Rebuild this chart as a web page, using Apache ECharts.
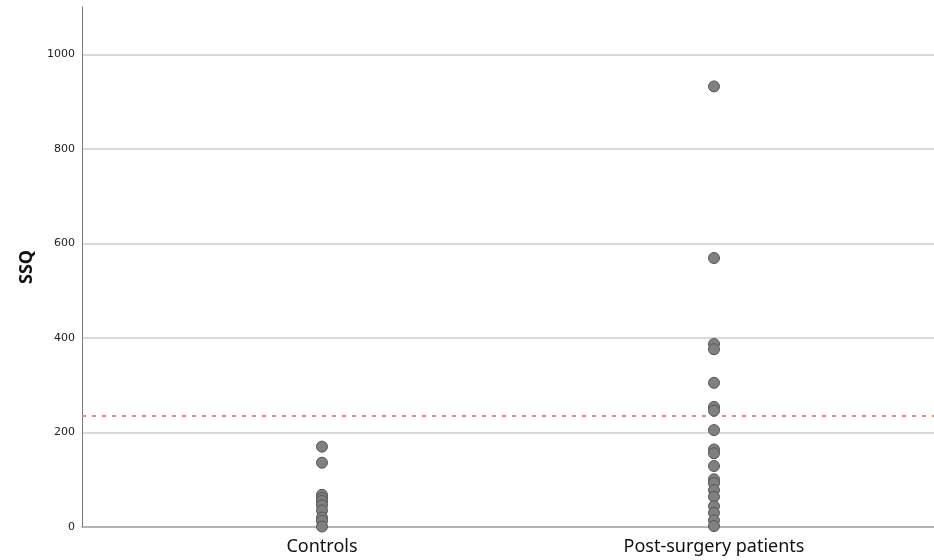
<!DOCTYPE html>
<html>
<head>
<meta charset="utf-8">
<script src="https://cdn.jsdelivr.net/npm/echarts@6/dist/echarts.min.js"></script>
<style>
  html, body { margin: 0; padding: 0; background: #fff; }
  #chart { width: 934px; height: 560px; }
</style>
</head>
<body>
<div id="chart"></div>
<script>
// Groups shown along the x axis
const categories = ['Controls', 'Post-surgery patients'];

// SSQ scores per participant
const controlsSSQ = [170, 136, 68, 61, 55, 46, 35, 20, 13, 1];
const postSurgerySSQ = [932, 569, 387, 376, 305, 254, 246, 205, 164, 156, 129, 101, 93, 78, 64, 44, 30, 14, 2];

// Cut-off score drawn as a dotted reference line
const cutoffSSQ = 235;

// Y scale
const yMin = 0;
const yMax = 1100;
const yStep = 200;

const points = [];
controlsSSQ.forEach(v => points.push([categories[0], v]));
postSurgerySSQ.forEach(v => points.push([categories[1], v]));

const chart = echarts.init(document.getElementById('chart'), null, { renderer: 'canvas' });

chart.setOption({
  animation: false,
  backgroundColor: '#ffffff',
  grid: [
    // frame: y axis, gridlines, baseline, cut-off line
    { left: 82, right: 0, top: 7, bottom: 33 },
    // group columns
    { left: 126, right: 24, top: 7, bottom: 33 }
  ],
  xAxis: [
    {
      gridIndex: 0, type: 'value', min: 0, max: 1,
      axisLine: { show: true, onZero: false, lineStyle: { color: '#9a9a9a', width: 1.5 } },
      axisTick: { show: false }, axisLabel: { show: false }, splitLine: { show: false }
    },
    {
      gridIndex: 1, type: 'category', data: categories,
      axisLine: { show: false }, axisTick: { show: false }, splitLine: { show: false },
      axisLabel: { margin: 11, fontFamily: 'Noto Sans', fontSize: 18, color: '#111' }
    }
  ],
  yAxis: [
    {
      gridIndex: 0, type: 'value', min: yMin, max: yMax, interval: yStep,
      name: 'SSQ', nameLocation: 'middle', nameRotate: 90, nameGap: 46,
      nameTextStyle: { fontFamily: 'Noto Sans', fontSize: 18, fontWeight: 'bold', color: '#111' },
      axisLine: { show: true, lineStyle: { color: '#7a7a7a', width: 1 } },
      axisTick: { show: false },
      axisLabel: {
        margin: 7, fontFamily: 'DejaVu Sans', fontSize: 11, color: '#222', showMaxLabel: false,
        formatter: v => String(v)
      },
      splitLine: { show: true, showMinLine: false, showMaxLine: false, lineStyle: { color: '#cccccc', width: 1.5 } }
    },
    {
      gridIndex: 1, type: 'value', min: yMin, max: yMax, interval: yStep,
      axisLine: { show: false }, axisTick: { show: false }, axisLabel: { show: false }, splitLine: { show: false }
    }
  ],
  series: [
    {
      type: 'line',
      xAxisIndex: 0, yAxisIndex: 0,
      data: [[0, cutoffSSQ], [1, cutoffSSQ]],
      showSymbol: false, symbol: 'none',
      lineStyle: { color: '#f08484', width: 2, type: [4, 6] },
      silent: true, z: 3
    },
    {
      type: 'scatter',
      xAxisIndex: 1, yAxisIndex: 1,
      data: points,
      symbol: 'circle', symbolSize: 11,
      itemStyle: { color: '#808080', borderColor: '#555555', borderWidth: 1, opacity: 1 },
      z: 4
    }
  ]
});
</script>
</body>
</html>
